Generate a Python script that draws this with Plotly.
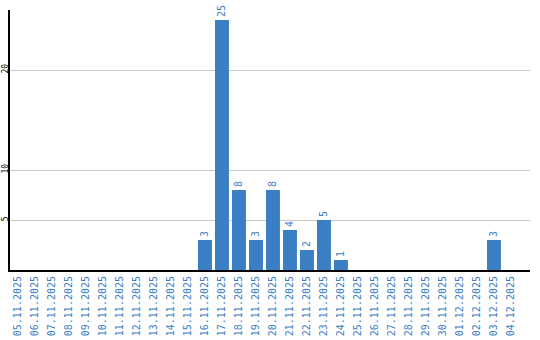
import plotly.graph_objects as go

dates = ["05.11.2025", "06.11.2025", "07.11.2025", "08.11.2025", "09.11.2025",
         "10.11.2025", "11.11.2025", "12.11.2025", "13.11.2025", "14.11.2025",
         "15.11.2025", "16.11.2025", "17.11.2025", "18.11.2025", "19.11.2025",
         "20.11.2025", "21.11.2025", "22.11.2025", "23.11.2025", "24.11.2025",
         "25.11.2025", "26.11.2025", "27.11.2025", "28.11.2025", "29.11.2025",
         "30.11.2025", "01.12.2025", "02.12.2025", "03.12.2025", "04.12.2025"]
counts = [0, 0, 0, 0, 0, 0, 0, 0, 0, 0, 0, 3, 25, 8, 3, 8, 4, 2, 5, 1,
          0, 0, 0, 0, 0, 0, 0, 0, 3, 0]
y_ticks = [5, 10, 20]

blue = "#3a7ec4"
labels = [str(v) if v > 0 else "" for v in counts]

fig = go.Figure(go.Bar(
    x=dates, y=counts, text=labels, textposition="outside", textangle=-90,
    textfont=dict(color=blue, size=10, family="DejaVu Sans Mono"),
    marker=dict(color=blue, line=dict(width=0)), cliponaxis=False,
))

fig.update_layout(
    width=540, height=340, margin=dict(l=10, r=10, t=10, b=70),
    paper_bgcolor="white", plot_bgcolor="white", bargap=0.18,
    showlegend=False,
)
fig.update_xaxes(
    type="category", range=[-0.47, 30.12], tickangle=-90, automargin=False,
    tickfont=dict(color=blue, size=10, family="DejaVu Sans Mono"),
    showline=True, linecolor="black", linewidth=2, showgrid=False,
    ticks="", ticklen=0,
)
fig.update_yaxes(
    range=[0, 26], tickvals=y_ticks, ticktext=[str(t) for t in y_ticks],
    automargin=False, ticklabelstandoff=-3,
    tickangle=-90, tickfont=dict(color="black", size=8, family="DejaVu Sans Mono"),
    showline=True, linecolor="black", linewidth=2, showgrid=True,
    gridcolor="#c8c8c8", gridwidth=1, zeroline=False, ticks="",
)

fig.write_html("out.html")
